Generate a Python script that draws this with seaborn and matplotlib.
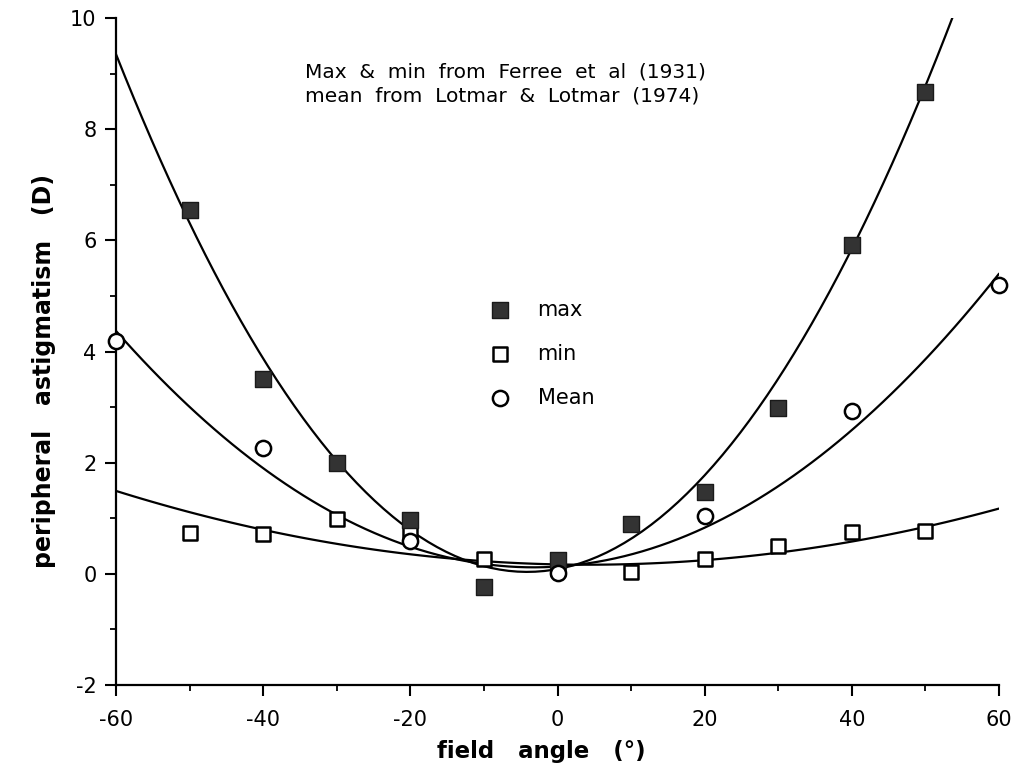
import numpy as np
import pandas as pd
import matplotlib
matplotlib.use("Agg")
import matplotlib.pyplot as plt
from matplotlib.ticker import MultipleLocator
import seaborn as sns

# measured points (Ferree et al 1931: max & min, Lotmar & Lotmar 1974: mean)
x_ferree = [-50, -40, -30, -20, -10, 0, 10, 20, 30, 40, 50]
max_vals = [6.55, 3.5, 2.0, 0.97, -0.23, 0.25, 0.9, 1.47, 2.98, 5.92, 8.67]
min_vals = [0.74, 0.72, 0.99, 0.74, 0.27, 0.08, 0.03, 0.27, 0.5, 0.75, 0.77]
x_lotmar = [-60, -40, -20, 0, 20, 40, 60]
mean_vals = [4.19, 2.26, 0.6, 0.02, 1.04, 2.93, 5.2]

# trend lines
x_trend = [-60, -40, -20, 0, 20, 40, 60]
x_max_trend = [-60, -40, -20, 0, 20, 40, 50]
max_trend = [9.35, 3.9, 0.75, 0.05, 1.8, 5.95, 8.7]
min_trend = [1.47, 0.83, 0.36, 0.15, 0.22, 0.61, 1.17]
mean_trend = [4.35, 1.92, 0.52, 0.12, 0.78, 2.62, 5.4]

x_ticks = [-60, -40, -20, 0, 20, 40, 60]
y_ticks = [-2, 0, 2, 4, 6, 8, 10]

sns.set_style("ticks")
plt.rcParams['font.family'] = ['DejaVu Sans']
plt.rcParams['axes.unicode_minus'] = False
plt.rcParams['text.color'] = 'black'
plt.rcParams['axes.labelcolor'] = 'black'
plt.rcParams['xtick.color'] = 'black'
plt.rcParams['ytick.color'] = 'black'

fig = plt.figure(figsize=(10.15, 7.73), dpi=100)
ax = fig.add_axes([0.1143, 0.1138, 0.870, 0.8629])
ax.set_xlim(-60, 60)
ax.set_ylim(-2, 10)

for xs, ys in [(x_max_trend, max_trend), (x_trend, min_trend), (x_trend, mean_trend)]:
    sns.regplot(x=xs, y=ys, order=2, ci=None, truncate=False, scatter=False,
                color="black", line_kws={"linewidth": 1.6, "zorder": 2}, ax=ax)

ferree = pd.DataFrame({"x": x_ferree, "max": max_vals, "min": min_vals})
lotmar = pd.DataFrame({"x": x_lotmar, "mean": mean_vals})

sns.scatterplot(data=ferree, x="x", y="max", marker="s", s=130, color="#333333",
                edgecolor="#1a1a1a", linewidth=1, label="max", zorder=4, clip_on=False, ax=ax)
sns.scatterplot(data=ferree, x="x", y="min", marker="s", s=110, color="white",
                edgecolor="black", linewidth=1.8, label="min", zorder=3, clip_on=False, ax=ax)
sns.scatterplot(data=lotmar, x="x", y="mean", marker="o", s=120, color="white",
                edgecolor="black", linewidth=1.8, label="Mean", zorder=5, clip_on=False, ax=ax)

ax.set_xlim(-60, 60)
ax.set_ylim(-2, 10)
ax.set_xticks(x_ticks)
ax.set_yticks(y_ticks)
ax.xaxis.set_minor_locator(MultipleLocator(10))
ax.yaxis.set_minor_locator(MultipleLocator(1))
ax.tick_params(which="major", direction="out", length=8, width=1.5, labelsize=15)
ax.tick_params(axis="x", which="major", pad=10)
ax.tick_params(axis="y", which="major", pad=6)
ax.tick_params(which="minor", direction="out", length=4.5, width=1.3)
sns.despine(ax=ax)
for sp in ["left", "bottom"]:
    ax.spines[sp].set_linewidth(1.6)
    ax.spines[sp].set_color("black")

ax.set_xlabel("field   angle   (°)", fontsize=16.5, fontweight="bold")
ax.set_ylabel("peripheral   astigmatism   (D)", fontsize=17, fontweight="bold")
ax.xaxis.set_label_coords(0.482, -0.082)
ax.yaxis.set_label_coords(-0.068, 0.471)

ax.text(-34.3, 9.2, "Max  &  min  from  Ferree  et  al  (1931)\nmean  from  Lotmar  &  Lotmar  (1974)",
        fontsize=14.5, ha="left", va="top", linespacing=1.35)

leg = ax.legend(loc="upper left", bbox_to_anchor=(-9.23, 4.93), bbox_transform=ax.transData,
                frameon=False, fontsize=15, handlelength=1.0, handletextpad=1.3,
                labelspacing=1.15, borderpad=0, borderaxespad=0)

plt.savefig("out.png", dpi=100)
